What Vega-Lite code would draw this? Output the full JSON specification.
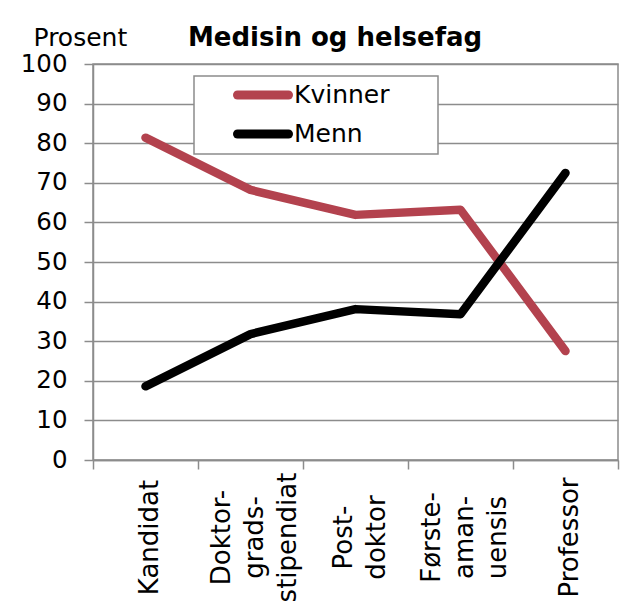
{
  "$schema": "https://vega.github.io/schema/vega-lite/v6.json",
  "width": 525,
  "height": 396,
  "autosize": "none",
  "padding": {"left": 93, "top": 64, "right": 4, "bottom": 152},
  "background": "white",
  "title": {"text": "Medisin og helsefag", "anchor": "start", "frame": "group", "dx": 95, "offset": -47, "baseline": "alphabetic", "font": "DejaVu Sans", "fontSize": 26, "fontWeight": "bold", "color": "black"},
  "data": {"values": [
    {"stilling": "Kandidat", "kjonn": "Kvinner", "prosent": 81.4},
    {"stilling": "Doktor-\ngrads-\nstipendiat", "kjonn": "Kvinner", "prosent": 68.2},
    {"stilling": "Post-\ndoktor", "kjonn": "Kvinner", "prosent": 61.9},
    {"stilling": "Første-\naman-\nuensis", "kjonn": "Kvinner", "prosent": 63.2},
    {"stilling": "Professor", "kjonn": "Kvinner", "prosent": 27.5},
    {"stilling": "Kandidat", "kjonn": "Menn", "prosent": 18.6},
    {"stilling": "Doktor-\ngrads-\nstipendiat", "kjonn": "Menn", "prosent": 31.8},
    {"stilling": "Post-\ndoktor", "kjonn": "Menn", "prosent": 38.1},
    {"stilling": "Første-\naman-\nuensis", "kjonn": "Menn", "prosent": 36.8},
    {"stilling": "Professor", "kjonn": "Menn", "prosent": 72.5}
  ]},
  "mark": {"type": "line", "strokeWidth": 8.5, "strokeCap": "round", "strokeJoin": "round"},
  "encoding": {
    "x": {
      "field": "stilling", "type": "nominal", "sort": null,
      "scale": {"paddingInner": 0, "paddingOuter": 0},
      "axis": {
        "title": null, "tickBand": "extent", "labelAngle": -90, "labelAlign": "center", "labelBaseline": "middle",
        "labelExpr": "split(datum.label, '\\n')", "labelLineHeight": 33,
        "labelFont": "DejaVu Sans", "labelFontSize": 26, "labelColor": "black", "labelPadding": 68,
        "labelOverlap": false, "labelLimit": 300,
        "labelOffset": {
          "condition": [
            {"test": "length(split(datum.label, '\\n')) == 3", "value": -29},
            {"test": "length(split(datum.label, '\\n')) == 2", "value": -12.5}
          ],
          "value": 4
        },
        "tickSize": 9, "tickColor": "#8c8c8c", "tickWidth": 1.5,
        "domainColor": "#8c8c8c", "domainWidth": 1.5, "grid": false
      }
    },
    "y": {
      "field": "prosent", "type": "quantitative",
      "scale": {"domain": [0, 100], "nice": false},
      "axis": {
        "title": "Prosent", "titleAngle": 0, "titleX": -60, "titleY": -19, "titleAlign": "left", "titleBaseline": "alphabetic",
        "titleFont": "DejaVu Sans", "titleFontSize": 25, "titleFontWeight": "normal", "titleColor": "black",
        "values": [0, 10, 20, 30, 40, 50, 60, 70, 80, 90, 100],
        "labelFont": "DejaVu Sans", "labelFontSize": 24.5, "labelColor": "black", "labelPadding": 17, "labelOverlap": false,
        "tickSize": 9, "tickColor": "#8c8c8c", "tickWidth": 1.5,
        "domainColor": "#8c8c8c", "domainWidth": 1.5,
        "grid": true, "gridColor": "#8c8c8c", "gridWidth": 1.5
      }
    },
    "color": {
      "field": "kjonn", "type": "nominal",
      "scale": {"domain": ["Kvinner", "Menn"], "range": ["#B3424E", "#000000"]},
      "legend": {
        "title": "\u00a0", "titleOrient": "right", "titlePadding": 42, "titleFontSize": 11,
        "orient": "none", "legendX": 101, "legendY": 12, "padding": 7,
        "fillColor": "white", "strokeColor": "#8c8c8c",
        "symbolType": "stroke", "symbolSize": 2601, "symbolStrokeWidth": 9, "symbolOffset": 32,
        "clipHeight": 24, "rowPadding": 14, "labelOffset": 1,
        "labelFont": "DejaVu Sans", "labelFontSize": 25, "labelColor": "black", "labelLimit": 300,
        "encode": {
          "symbols": {"update": {"strokeCap": {"value": "round"}}},
          "legend": {"update": {"strokeWidth": {"value": 1.5}}}
        }
      }
    }
  },
  "config": {"view": {"stroke": "#8c8c8c", "strokeWidth": 1.5}}
}
